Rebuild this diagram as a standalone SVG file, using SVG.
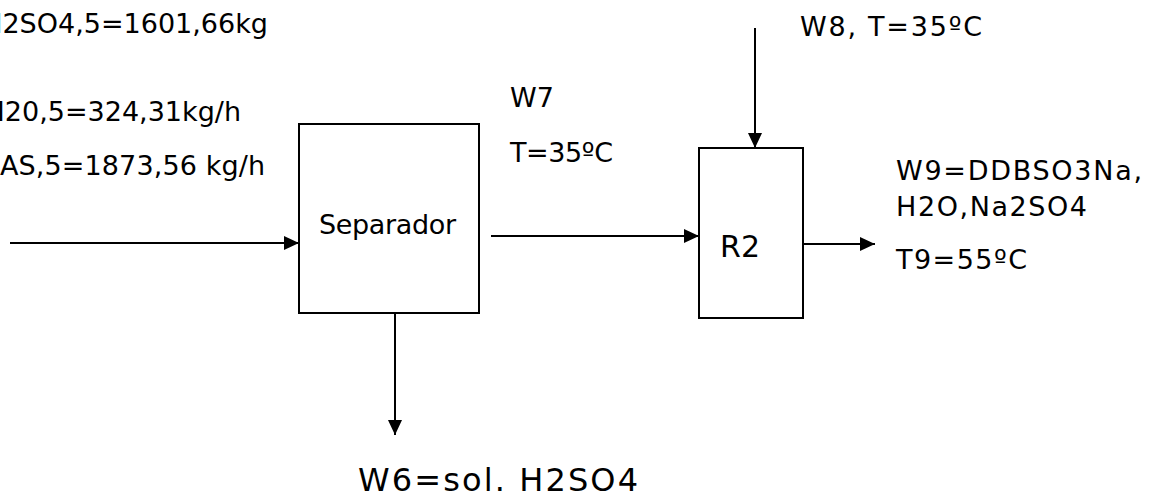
<svg xmlns="http://www.w3.org/2000/svg" width="1151" height="494" viewBox="0 0 1151 494">
<style>
text{font-family:"DejaVu Sans","Verdana",sans-serif;fill:#000;font-size:27px}
.box{fill:#fff;stroke:#000;stroke-width:2}
.ln{stroke:#000;stroke-width:2;fill:none;marker-end:url(#ah)}
</style>
<defs>
<marker id="ah" markerUnits="userSpaceOnUse" markerWidth="15" markerHeight="14" refX="15" refY="7" orient="auto">
<path d="M0,0 L15,7 L0,14 z" fill="#000"/>
</marker>
</defs>
<rect width="1151" height="494" fill="#fff"/>
<g id="connectors">
<path class="ln" d="M10,243 L299,243"/>
<path class="ln" d="M491,236 L699,236"/>
<path class="ln" d="M755,28 L755,148"/>
<path class="ln" d="M803,244 L875,244"/>
<path class="ln" d="M395,313 L395,435"/>
</g>
<g id="separador">
<rect class="box" x="299" y="124" width="180" height="189"/>
<text x="319" y="234" textLength="137">Separador</text>
</g>
<g id="r2">
<rect class="box" x="699" y="148" width="104" height="170"/>
<text x="720" y="257" style="font-size:30px" textLength="40">R2</text>
</g>
<g id="labels">
<text x="268" y="33" text-anchor="end">H2SO4,5=1601,66kg</text>
<text x="241" y="121" text-anchor="end">H20,5=324,31kg/h</text>
<text x="0" y="175" textLength="265">AS,5=1873,56 kg/h</text>
<text x="510" y="107">W7</text>
<text x="510" y="162" textLength="103">T=35ºC</text>
<text x="800" y="36" textLength="182">W8, T=35ºC</text>
<text x="896" y="180" textLength="246">W9=DDBSO3Na,</text>
<text x="896" y="216" textLength="191">H2O,Na2SO4</text>
<text x="896" y="269" textLength="131">T9=55ºC</text>
<text x="358" y="491" style="font-size:32px" textLength="280">W6=sol. H2SO4</text>
</g>
</svg>
